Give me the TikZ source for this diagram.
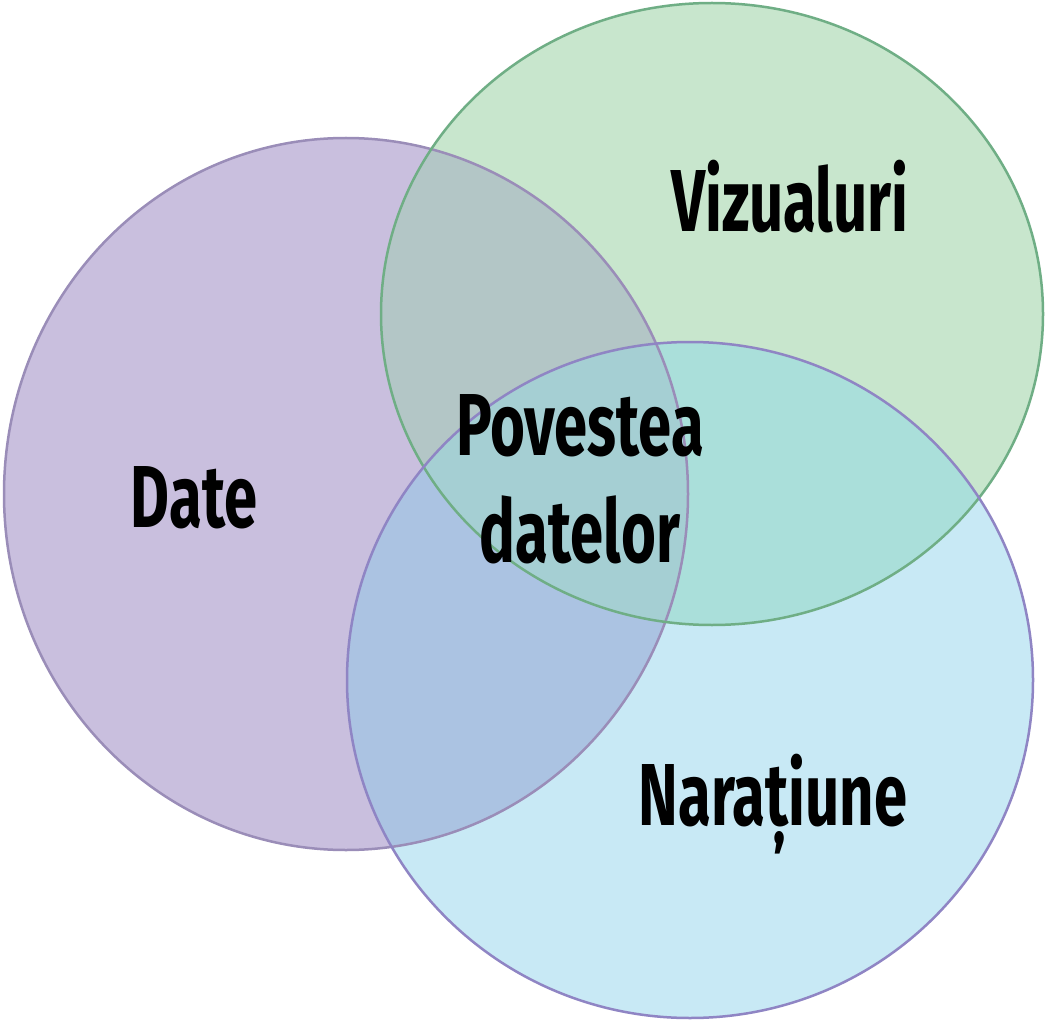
\documentclass[tikz,border=0pt]{standalone}
\usepackage{fontspec}
\setmainfont[FakeStretch=0.68]{Fira Sans}
\usetikzlibrary{positioning}
\definecolor{pfill}{HTML}{C9BFDE}
\definecolor{gfill}{HTML}{C8E6CD}
\definecolor{bfill}{HTML}{C8E9F5}
\definecolor{pgfill}{HTML}{B3C6C6}
\definecolor{pbfill}{HTML}{ABC3E2}
\definecolor{gbfill}{HTML}{AADFDA}
\definecolor{pgbfill}{HTML}{A5CFD3}
\definecolor{pline}{HTML}{9A8DB8}
\definecolor{gline}{HTML}{6FAE85}
\definecolor{bline}{HTML}{8F85C4}
\tikzset{
  lbl/.style={anchor=base, inner sep=0pt, font=\fontsize{88}{88}\selectfont\bfseries, text=black},
}
\newcommand{\pshape}{(346,494) ellipse [x radius=342pt, y radius=356pt]}
\newcommand{\gshape}{(712,314) ellipse [x radius=331pt, y radius=311pt]}
\newcommand{\bshape}{(690,680) ellipse [x radius=343pt, y radius=338pt]}
\begin{document}
\begin{tikzpicture}[x=1pt,y=-1pt]
\useasboundingbox (0,0) rectangle (1052,1024);
\fill[white] (0,0) rectangle (1052,1024);
\fill[pfill] \pshape;
\fill[gfill] \gshape;
\fill[bfill] \bshape;
\begin{scope}
  \clip \pshape;
  \fill[pgfill] \gshape;
  \fill[pbfill] \bshape;
\end{scope}
\begin{scope}
  \clip \gshape;
  \fill[gbfill] \bshape;
\end{scope}
\begin{scope}
  \clip \pshape;
  \clip \gshape;
  \fill[pgbfill] \bshape;
\end{scope}
\draw[pline, line width=2.5pt] \pshape;
\draw[gline, line width=2.5pt] \gshape;
\draw[bline, line width=2.5pt] \bshape;
\node[lbl] (date) at (194,527) {Date};
\node[lbl] (viz) at (790,232) {Vizualuri};
\node[lbl] (pov) at (580,455) {Povestea};
\node[lbl] (dat) at (580,562) {datelor};
\node[lbl] (nar) at (773,825) {Narațiune};
\end{tikzpicture}
\end{document}
